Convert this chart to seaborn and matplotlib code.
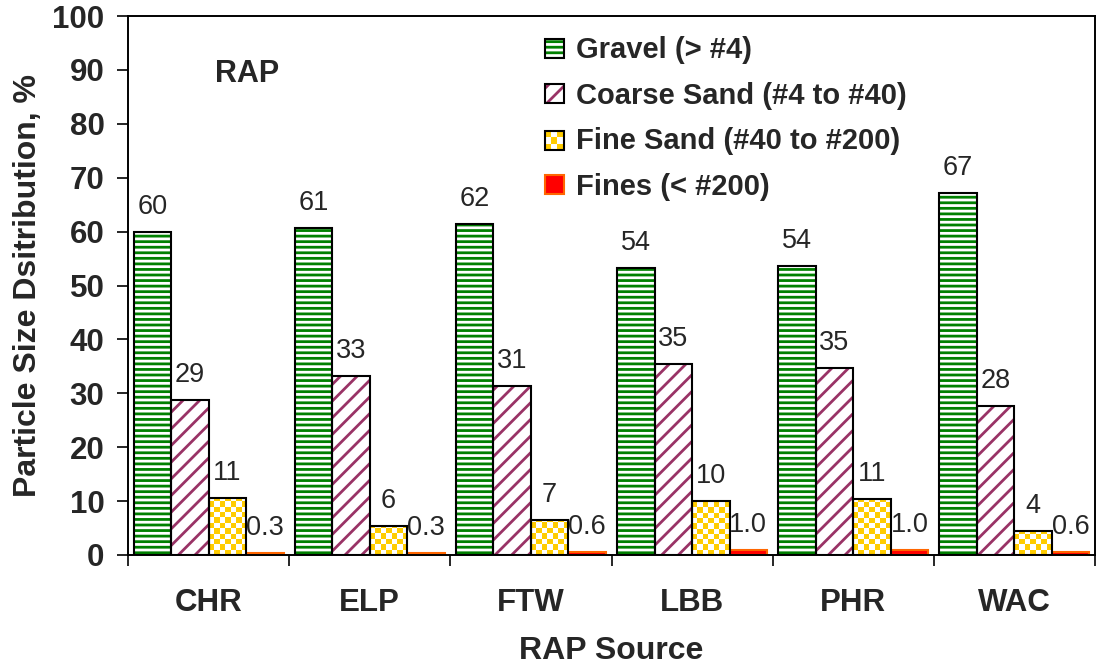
import matplotlib
matplotlib.use("Agg")
import matplotlib.pyplot as plt
import numpy as np
import pandas as pd
import seaborn as sns
from matplotlib.colors import ListedColormap
from matplotlib.patches import Patch, Rectangle

# values
sources = ["CHR", "ELP", "FTW", "LBB", "PHR", "WAC"]
fractions = ["Gravel (> #4)", "Coarse Sand (#4 to #40)",
             "Fine Sand (#40 to #200)", "Fines (< #200)"]
gravel = [60.0, 60.7, 61.4, 53.3, 53.6, 67.1]
coarse_sand = [28.8, 33.2, 31.4, 35.5, 34.7, 27.7]
fine_sand = [10.6, 5.4, 6.5, 10.0, 10.3, 4.4]
fines = [0.3, 0.3, 0.6, 1.0, 1.0, 0.6]
gravel_lbl = ["60", "61", "62", "54", "54", "67"]
coarse_lbl = ["29", "33", "31", "35", "35", "28"]
fine_lbl = ["11", "6", "7", "10", "11", "4"]
fines_lbl = ["0.3", "0.3", "0.6", "1.0", "1.0", "0.6"]

GREEN = "#008000"
PURPLE = "#993366"
YELLOW = "#FFCC00"
RED = "#FF0000"
ORANGE = "#FF6600"

sns.set_style("ticks")
plt.rcParams["font.family"] = ["Liberation Sans", "DejaVu Sans"]
plt.rcParams["hatch.linewidth"] = 2.0

df = pd.DataFrame({
    "source": sources * 4,
    "fraction": np.repeat(fractions, len(sources)),
    "value": gravel + coarse_sand + fine_sand + fines,
})
labels = [gravel_lbl, coarse_lbl, fine_lbl, fines_lbl]

fig = plt.figure(figsize=(10.96, 6.69), dpi=100)
ax = fig.add_axes([128 / 1096, 1 - 555 / 669, 967 / 1096, 539 / 669])

sns.barplot(data=df, x="source", y="value", hue="fraction", hue_order=fractions,
            palette=["white", "white", "white", RED], saturation=1,
            width=0.93, gap=0, legend=False, ax=ax)

xlim = ax.get_xlim()
ax.set_ylim(0, 100)
checker_cmap = ListedColormap(["white", YELLOW])
cell_h = 0.98

for k, cont in enumerate(ax.containers):
    for bar in cont.patches:
        x0, y0 = bar.get_xy()
        w, h = bar.get_width(), bar.get_height()
        if k == 0:
            bar.set_edgecolor(GREEN)
            bar.set_hatch("---")
            bar.set_linewidth(0)
        elif k == 1:
            bar.set_edgecolor(PURPLE)
            bar.set_hatch("//")
            bar.set_linewidth(0)
        elif k == 2:
            bar.set_linewidth(0)
            rows = int(np.ceil(h / cell_h))
            grid = np.indices((rows, 7)).sum(axis=0) % 2
            im = ax.imshow(grid[::-1], cmap=checker_cmap, aspect="auto",
                           interpolation="nearest",
                           extent=(x0, x0 + w, 0, rows * cell_h), zorder=1.2)
            im.set_clip_path(bar)
        else:
            bar.set_edgecolor(ORANGE)
            bar.set_linewidth(1.5)
        if k < 3:
            ax.add_patch(Rectangle((x0, y0), w, h, fill=False, ec="black",
                                   lw=1.5, zorder=1.5))
    for bar, txt in zip(cont.patches, labels[k]):
        ax.annotate(txt, (bar.get_x() + bar.get_width() / 2, bar.get_height()),
                    xytext=(0, 13), textcoords="offset points",
                    ha="center", va="baseline", fontsize=19.5)

ax.set_xlim(xlim)
ax.set_ylim(0, 100)

for sp in ax.spines.values():
    sp.set_visible(True)
    sp.set_linewidth(1.4)
    sp.set_color("black")

ax.set_yticks(range(0, 101, 10))
ax.set_yticklabels([str(v) for v in range(0, 101, 10)], fontsize=22.5,
                   fontweight="bold")
ax.tick_params(axis="y", length=8, width=1.4, pad=9)
ax.set_xticks(range(len(sources)))
ax.set_xticklabels(sources, fontsize=22.5, fontweight="bold")
ax.set_xticks(np.arange(len(sources) + 1) - 0.5, minor=True)
ax.tick_params(axis="x", which="major", length=0, pad=24)
ax.tick_params(axis="x", which="minor", length=8, width=1.4)

ax.set_xlabel("RAP Source", fontsize=23, fontweight="bold", labelpad=13)
ax.set_ylabel("Particle Size Dsitribution, %", fontsize=23,
              fontweight="bold", labelpad=7)

ax.text(0.09, 0.878, "RAP", transform=ax.transAxes, ha="left",
        va="baseline", fontsize=22, fontweight="bold")


class CheckerHandler:
    def legend_artist(self, legend, orig_handle, fontsize, handlebox):
        x0, y0 = handlebox.xdescent, handlebox.ydescent
        w, h = handlebox.width, handlebox.height
        n = 3
        for i in range(n):
            for j in range(n):
                c = YELLOW if (i + j) % 2 == 0 else "white"
                handlebox.add_artist(Rectangle((x0 + j * w / n, y0 + i * h / n),
                                               w / n, h / n, fc=c, lw=0,
                                               transform=handlebox.get_transform()))
        box = Rectangle((x0, y0), w, h, fill=False, ec="black", lw=1.5,
                        transform=handlebox.get_transform())
        handlebox.add_artist(box)
        return box


gravel_h = (Patch(facecolor="white", edgecolor=GREEN, hatch="---", lw=0),
            Patch(fill=False, edgecolor="black", lw=1.5))
coarse_h = (Patch(facecolor="white", edgecolor=PURPLE, hatch="//", lw=0),
            Patch(fill=False, edgecolor="black", lw=1.5))
fine_h = Patch(facecolor=YELLOW)
fines_h = Patch(facecolor=RED, edgecolor=ORANGE, lw=1.5)

ax.legend([gravel_h, coarse_h, fine_h, fines_h], fractions,
          handler_map={fine_h: CheckerHandler()},
          loc="upper left", bbox_to_anchor=(0.431, 0.962), frameon=False,
          prop={"size": 21, "weight": "bold"}, borderpad=0, borderaxespad=0,
          handlelength=0.65, handleheight=0.65, handletextpad=0.42,
          labelspacing=0.6)

fig.savefig("out.png", dpi=100)
